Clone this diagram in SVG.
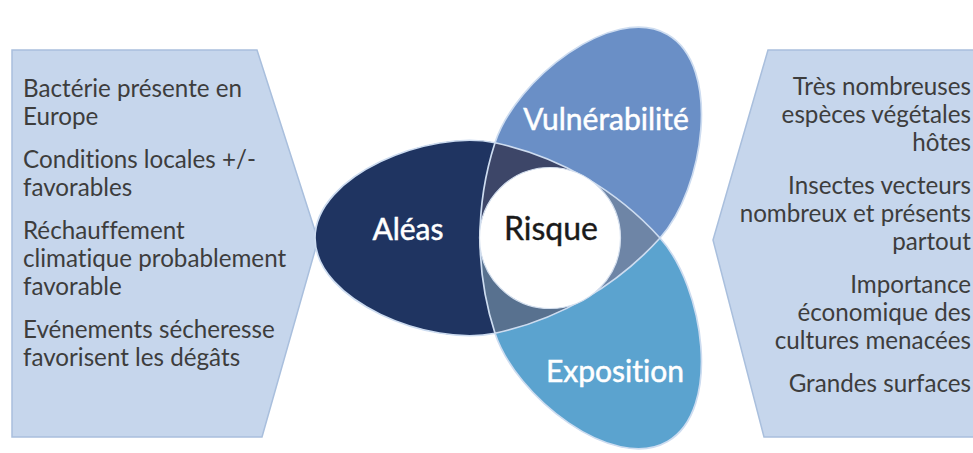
<svg xmlns="http://www.w3.org/2000/svg" width="973" height="453" viewBox="0 0 973 453">
  <style>
    text { font-variant-ligatures: none; }
    .panel { fill: #c6d6ec; stroke: #a9bfdd; stroke-width: 1.5; }
    .pt { font-family: Lato, "Liberation Sans", sans-serif; font-size: 24.2px; fill: #3d3d3d; }
    .rt { text-anchor: end; }
    .lbl { font-family: Lato, "Liberation Sans", sans-serif; font-size: 30px; fill: #ffffff; stroke: #ffffff; stroke-width: 0.5; text-anchor: middle; }
    .outline { fill: none; stroke: #cddcf0; stroke-width: 1.7; stroke-linejoin: round; }
  </style>
  <defs>
    <clipPath id="tri">
      <path d="M495,142.74 A310,310 0 0 0 495,333.26 A310,310 0 0 0 660,238 A310,310 0 0 0 495,142.74 Z"/>
    </clipPath>
  </defs>
  <rect x="0" y="0" width="973" height="453" fill="#ffffff"/>

  <g id="panel-left">
    <polygon class="panel" points="12,50 257,50 318,240 262,437 12,437"/>
    <text class="pt" x="23" y="97">Bactérie présente en</text>
    <text class="pt" x="23" y="125">Europe</text>
    <text class="pt" x="23" y="168">Conditions locales +/-</text>
    <text class="pt" x="23" y="196">favorables</text>
    <text class="pt" x="23" y="239">Réchauffement</text>
    <text class="pt" x="23" y="267">climatique probablement</text>
    <text class="pt" x="23" y="295">favorable</text>
    <text class="pt" x="23" y="338">Evénements sécheresse</text>
    <text class="pt" x="23" y="366">favorisent les dégâts</text>
  </g>

  <g id="panel-right">
    <polygon class="panel" points="768,50 980,50 980,437 764,437 713,240"/>
    <text class="pt rt" x="971" y="95">Très nombreuses</text>
    <text class="pt rt" x="971" y="123">espèces végétales</text>
    <text class="pt rt" x="971" y="151">hôtes</text>
    <text class="pt rt" x="971" y="194">Insectes vecteurs</text>
    <text class="pt rt" x="971" y="222">nombreux et présents</text>
    <text class="pt rt" x="971" y="250">partout</text>
    <text class="pt rt" x="971" y="293">Importance</text>
    <text class="pt rt" x="971" y="321">économique des</text>
    <text class="pt rt" x="971" y="349">cultures menacées</text>
    <text class="pt rt" x="971" y="392">Grandes surfaces</text>
  </g>

  <g id="node-aleas">
    <path fill="#1f3461" d="M495,142.74 C430,129 315,175 315,238 C315,301 430,347 495,333.26 A310,310 0 0 1 495,142.74 Z"/>
    <text class="lbl" x="408" y="240">Aléas</text>
  </g>
  <g id="node-vulnerabilite">
    <path fill="#6a8fc6" d="M660,238 C704.39,188.58 722.06,65.99 667.5,34.49 C612.94,2.99 515.61,79.58 495,142.74 A310,310 0 0 1 660,238 Z"/>
    <text class="lbl" x="606" y="130">Vulnérabilité</text>
  </g>
  <g id="node-exposition">
    <path fill="#5ba3cf" d="M495,333.26 C515.61,396.42 612.94,473.01 667.5,441.51 C722.06,410.01 704.39,287.42 660,238 A310,310 0 0 1 495,333.26 Z"/>
    <text class="lbl" x="615" y="382">Exposition</text>
  </g>
  <g id="overlaps" clip-path="url(#tri)">
    <polygon fill="#3d4668" points="550,238 200,238 300,-200 750,-108"/>
    <polygon fill="#6e85a6" points="550,238 750,-108 950,238 750,584"/>
    <polygon fill="#58718f" points="550,238 750,584 300,676 200,238"/>
  </g>
  <g id="outlines">
    <path class="outline" d="M495,142.74 C430,129 315,175 315,238 C315,301 430,347 495,333.26 A310,310 0 0 0 660,238 C704.39,188.58 722.06,65.99 667.5,34.49 C612.94,2.99 515.61,79.58 495,142.74 A310,310 0 0 0 495,333.26 C515.61,396.42 612.94,473.01 667.5,441.51 C722.06,410.01 704.39,287.42 660,238 A310,310 0 0 0 495,142.74 Z"/>
  </g>
  <g id="node-risque">
    <circle cx="550" cy="238" r="70.5" fill="#ffffff" stroke="#d5e0ef" stroke-width="1.2"/>
    <text class="lbl" x="551" y="240" style="fill:#1a1a1a;stroke:#1a1a1a;stroke-width:0.4;font-size:32px">Risque</text>
  </g>
  <g id="connectors"/>
</svg>
